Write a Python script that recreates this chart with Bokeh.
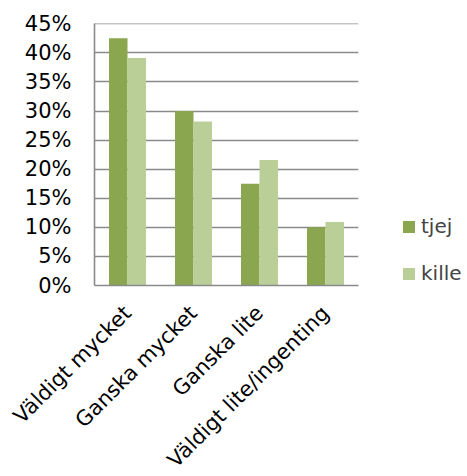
from bokeh.plotting import figure
from bokeh.models import (ColumnDataSource, FactorRange, Range1d, FixedTicker,
                          NumeralTickFormatter, Legend, LegendItem)
from bokeh.transform import dodge
from bokeh.embed import file_html
from bokeh.resources import INLINE
import math

categories = ["Väldigt mycket", "Ganska mycket", "Ganska lite", "Väldigt lite/ingenting"]
tjej = [0.425, 0.300, 0.175, 0.100]
kille = [0.391, 0.282, 0.216, 0.109]
series_names = ["tjej", "kille"]
y_ticks = [0.0, 0.05, 0.10, 0.15, 0.20, 0.25, 0.30, 0.35, 0.40, 0.45]

FONT = "DejaVu Sans"
GRID = "#8a8a8a"

source = ColumnDataSource(dict(cat=categories, tjej=tjej, kille=kille))

p = figure(x_range=FactorRange(*categories), y_range=Range1d(0, 0.4505),
           frame_width=264, frame_height=262, output_backend="svg", toolbar_location=None)
p.min_border_left = 94
p.min_border_top = 23
p.min_border_right = 100
p.min_border_bottom = 0
p.outline_line_color = None
p.background_fill_color = "white"

r1 = p.vbar(x=dodge("cat", -0.14, range=p.x_range), top="tjej", width=0.28,
            source=source, fill_color="#8AA64E", line_color=None)
r2 = p.vbar(x=dodge("cat", 0.14, range=p.x_range), top="kille", width=0.28,
            source=source, fill_color="#BACF97", line_color=None)

p.xgrid.grid_line_color = None
p.ygrid.grid_line_color = GRID
p.ygrid.grid_line_width = 1.3
p.yaxis.ticker = FixedTicker(ticks=y_ticks)
p.yaxis.formatter = NumeralTickFormatter(format="0%")

for ax in (p.xaxis[0], p.yaxis[0]):
    ax.axis_line_color = GRID
    ax.axis_line_width = 1.6
    ax.major_tick_line_color = None
    ax.minor_tick_line_color = None
    ax.major_label_text_font = FONT
    ax.major_label_text_color = "#000000"

p.yaxis.major_label_text_font_size = "21px"
p.yaxis.major_label_standoff = 17
p.xaxis.major_label_text_font_size = "21px"
p.xaxis.major_label_orientation = math.pi / 4
p.xaxis.major_label_standoff = 18

legend = Legend(items=[LegendItem(label=series_names[0], renderers=[r1]),
                       LegendItem(label=series_names[1], renderers=[r2])],
                location=(43, 0), orientation="vertical")
legend.glyph_width = 15
legend.glyph_height = 15
legend.label_text_font = FONT
legend.label_text_font_size = "20px"
legend.label_standoff = 5
legend.spacing = 23
legend.padding = 0
legend.margin = 0
legend.border_line_color = None
legend.background_fill_alpha = 0
p.add_layout(legend, "right")

open("out.html", "w").write(file_html(p, INLINE))
